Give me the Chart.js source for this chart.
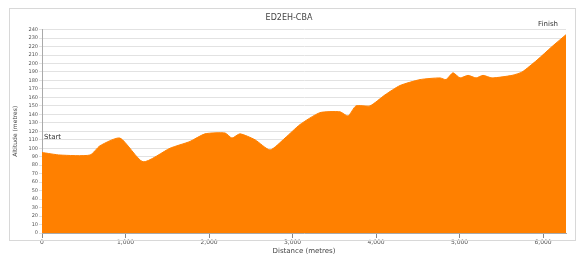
<!doctype html>
<html lang="en">
  <head>
    <meta charset="utf-8">
    <title>ED2EH-CBA</title>
    <style>
      body { margin: 0; background-color: #ffffff; }
      #wrap { width: 582px; height: 255px; }
    </style>
  </head>
  <body>
    <div id="wrap"><canvas id="profile"></canvas></div>

  <script src="https://cdn.jsdelivr.net/npm/chart.js@4.4.0/dist/chart.umd.min.js"></script>
  <script>
    // distance along route (metres) and altitude (metres)
    var distance = [0, 216, 575, 695, 934, 1210, 1533, 1772, 1952, 2192, 2275, 2371, 2551, 2731, 2910,
                    3090, 3329, 3569, 3665, 3760, 3928, 4108, 4287, 4527, 4766, 4838, 4922, 5006,
                    5102, 5198, 5281, 5389, 5629, 5749, 5928, 6108, 6275];
    var altitude = [95, 92, 92, 103, 112, 84, 100, 108, 117, 118, 112, 117, 110, 98, 112,
                    128, 142, 143, 138, 150, 150, 163, 174, 181, 183, 181, 189, 183,
                    186, 183, 186, 183, 186, 190, 204, 220, 234];
    var xTicks = [0, 1000, 2000, 3000, 4000, 5000, 6000];
    var yMax = 240;
    var yStep = 10;

    var points = [];
    for (let i in distance) {
      points.push({x: distance[i], y: altitude[i]});
    }

    // start / finish labels + outer frame
    const labelPlugin = {
      id: 'labels',
      afterDatasetsDraw(chart) {
        const ctx = chart.ctx;
        const xs = chart.scales.x, ys = chart.scales.y;
        ctx.save();
        ctx.font = '7px "DejaVu Sans"';
        ctx.fillStyle = '#333333';
        ctx.textBaseline = 'bottom';
        ctx.textAlign = 'left';
        ctx.fillText('Start', xs.getPixelForValue(distance[0]) + 2, ys.getPixelForValue(altitude[0]) - 12);
        ctx.textAlign = 'right';
        let n = distance.length - 1;
        ctx.fillText('Finish', xs.getPixelForValue(distance[n]) - 8, ys.getPixelForValue(altitude[n]) - 7);
        ctx.strokeStyle = '#d8d8d8';
        ctx.lineWidth = 1;
        ctx.strokeRect(9.5, 8.5, 566, 232);
        ctx.restore();
      }
    };

    const config = {
      type: 'line',
      data: {
        datasets: [{
          label: 'Altitude',
          data: points,
          backgroundColor: '#ff8000',
          borderColor: '#ff8000',
          borderWidth: 1,
          fill: 'origin',
          pointRadius: 0,
          tension: 0.2
        }]
      },
      options: {
        responsive: true,
        maintainAspectRatio: false,
        animation: false,
        layout: { padding: { left: 12, right: 16, top: 0, bottom: 0 } },
        plugins: {
          legend: { display: false },
          tooltip: { enabled: false },
          title: {
            display: true,
            text: 'ED2EH-CBA',
            color: '#444444',
            font: { family: 'DejaVu Sans', size: 8, weight: 'normal' },
            padding: { top: 13, bottom: 7 }
          }
        },
        scales: {
          x: {
            type: 'linear',
            min: 0,
            max: distance[distance.length - 1],
            afterBuildTicks: function(scale) {
              scale.ticks = xTicks.map(function(v) { return {value: v}; });
            },
            afterFit: function(scale) { scale.height = 22; },
            grid: { display: true, drawOnChartArea: false, tickLength: 5, color: '#888888' },
            border: { color: '#aaaaaa' },
            ticks: {
              color: '#555555',
              font: { family: 'DejaVu Sans', size: 6 },
              padding: 1,
              maxRotation: 0
            },
            title: {
              display: true,
              text: 'Distance (metres)',
              color: '#444444',
              font: { family: 'DejaVu Sans', size: 7 },
              padding: { top: 0, bottom: 0 }
            }
          },
          y: {
            min: 0,
            max: yMax,
            afterFit: function(scale) { scale.width = 30; },
            grid: { color: '#e2e2e2', tickLength: 3 },
            border: { color: '#aaaaaa' },
            ticks: {
              stepSize: yStep,
              autoSkip: false,
              color: '#555555',
              font: { family: 'DejaVu Sans', size: 5 },
              padding: 1
            },
            title: {
              display: true,
              text: 'Altitude (metres)',
              color: '#444444',
              font: { family: 'DejaVu Sans', size: 6 },
              padding: { top: 0, bottom: 2 }
            }
          }
        }
      },
      plugins: [labelPlugin]
    };

    new Chart(document.getElementById('profile'), config);
  </script>
  </body>
</html>
